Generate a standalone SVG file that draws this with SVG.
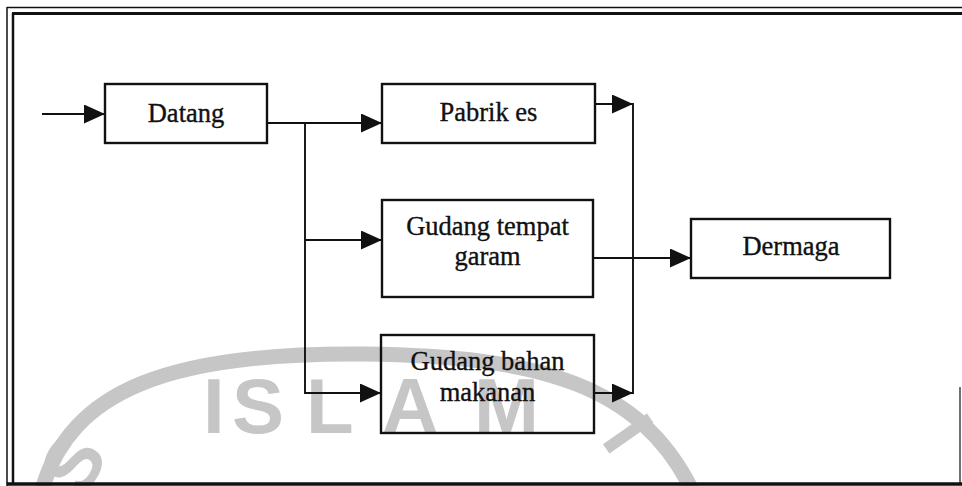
<svg xmlns="http://www.w3.org/2000/svg" width="962" height="486" viewBox="0 0 962 486">
  <style>
    .box { fill: none; stroke: #111; stroke-width: 2.4; }
    .lbl { font-family: "Liberation Serif", "Times New Roman", serif; font-size: 26.5px; fill: #111; stroke: #111; stroke-width: 0.35; text-anchor: middle; }
    .wire { fill: none; stroke: #111; stroke-width: 1.9; }
    .frame { fill: none; stroke: #111; }
    .mark { fill: #c6c6c6; font-family: "Liberation Sans", Arial, sans-serif; font-weight: bold; font-size: 78px; }
    .ring { fill: none; stroke: #c6c6c6; stroke-width: 15; }
  </style>
  <defs>
    <marker id="head" markerUnits="userSpaceOnUse" markerWidth="22" markerHeight="20" refX="21" refY="9.5" orient="auto">
      <path d="M0,0 L21,9.5 L0,19 z" fill="#111"/>
    </marker>
  </defs>

  <rect width="962" height="486" fill="#fff"/>

  <!-- faint seal watermark behind the chart -->
  <g id="watermark">
    <path class="ring" d="M 42 490 C 70 390, 170 352, 365 354 C 540 356, 640 385, 692 490"/>
    <text class="mark" x="203" y="433">I</text>
    <text class="mark" x="232" y="433">S</text>
    <text class="mark" x="306" y="433">L</text>
    <text class="mark" x="382" y="433">A</text>
    <text class="mark" x="474" y="433">M</text>
    <text class="mark" transform="translate(82 500) rotate(-58)">S</text>
    <text class="mark" transform="translate(600 440) rotate(55)">I</text>
  </g>

  <!-- double page frame -->
  <g id="frame">
    <line class="frame" x1="7" y1="7.5" x2="962" y2="7.5" stroke-width="1.5"/>
    <line class="frame" x1="12" y1="13.5" x2="962" y2="13.5" stroke-width="3"/>
    <line class="frame" x1="7" y1="7" x2="7" y2="486" stroke-width="1.5"/>
    <line class="frame" x1="13" y1="13" x2="13" y2="484" stroke-width="2.5"/>
    <line class="frame" x1="7" y1="484" x2="962" y2="484" stroke-width="3.5"/>
    <line class="frame" x1="960" y1="387" x2="960" y2="484" stroke-width="1.2"/>
  </g>

  <g id="connectors">
    <line class="wire" x1="42" y1="114" x2="105" y2="114" marker-end="url(#head)"/>
    <line class="wire" x1="267" y1="123" x2="382" y2="123" marker-end="url(#head)"/>
    <polyline class="wire" points="305,123 305,393 381,393" marker-end="url(#head)"/>
    <line class="wire" x1="305" y1="240" x2="382" y2="240" marker-end="url(#head)"/>
    <line class="wire" x1="595" y1="104" x2="633" y2="104" marker-end="url(#head)"/>
    <line class="wire" x1="633" y1="103" x2="633" y2="394"/>
    <line class="wire" x1="594" y1="393" x2="633" y2="393" marker-end="url(#head)"/>
    <line class="wire" x1="593" y1="258" x2="691" y2="258" marker-end="url(#head)"/>
  </g>

  <g id="datang">
    <rect class="box" x="105" y="84" width="162" height="59"/>
    <text class="lbl" x="186" y="122">Datang</text>
  </g>

  <g id="pabrik-es">
    <rect class="box" x="382" y="84" width="213" height="59"/>
    <text class="lbl" x="488.5" y="121">Pabrik es</text>
  </g>

  <g id="gudang-tempat-garam">
    <rect class="box" x="382" y="200" width="211" height="97"/>
    <text class="lbl" x="487.5" y="235">Gudang tempat</text>
    <text class="lbl" x="487.5" y="265">garam</text>
  </g>

  <g id="gudang-bahan-makanan">
    <rect class="box" x="381" y="335" width="213" height="98"/>
    <text class="lbl" x="487.5" y="370">Gudang bahan</text>
    <text class="lbl" x="487.5" y="401">makanan</text>
  </g>

  <g id="dermaga">
    <rect class="box" x="691" y="219" width="199" height="59"/>
    <text class="lbl" x="791" y="255">Dermaga</text>
  </g>
</svg>
